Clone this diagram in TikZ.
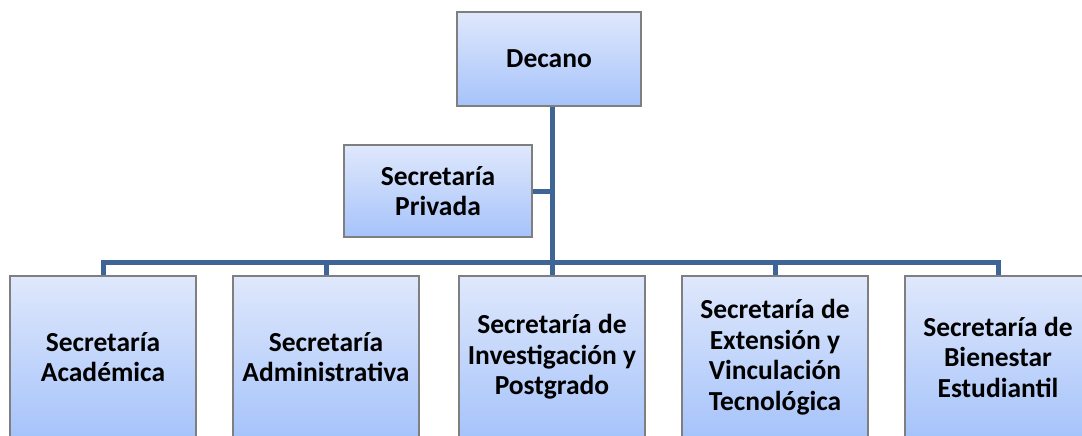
\documentclass[tikz,border=0pt]{standalone}
\usepackage{fontspec}
\setmainfont{Carlito}
\definecolor{linec}{HTML}{3F6596}
\definecolor{boxtop}{HTML}{DFE8FC}
\definecolor{boxbot}{HTML}{A6C3FA}
\definecolor{boxedge}{HTML}{7F7F7F}
\begin{document}
\begin{tikzpicture}[x=1pt,y=-1pt,
  box/.style={draw=boxedge, line width=1.6pt, top color=boxtop, bottom color=boxbot,
    minimum width=186pt, align=center, font=\fontsize{27.5}{30.5}\selectfont\bfseries, inner sep=0pt},
  conn/.style={draw=linec, line width=5pt, line join=miter}]
\useasboundingbox (0,0) rectangle (1082,436);
\begin{scope}
\clip (0,0) rectangle (1082,436);
\node[box, minimum width=184pt, minimum height=94pt] (dec) at (549,59) {Decano};
\node[box, minimum width=188pt, minimum height=92pt] (priv) at (438,191) {Secretaría\\Privada};
\node[box, minimum height=162pt] (b1) at (103,357) {Secretaría\\Académica};
\node[box, minimum height=162pt] (b2) at (326,357) {Secretaría\\Administrativa};
\node[box, minimum height=162pt] (b3) at (552,357) {Secretaría de\\Investigación y\\Postgrado};
\node[box, minimum height=162pt] (b4) at (775,357) {Secretaría de\\Extensión y\\Vinculación\\Tecnológica};
\node[box, minimum height=162pt] (b5) at (998,357) {Secretaría de\\Bienestar\\Estudiantil};
\coordinate (bus) at (552,262);
\path[conn] (dec.south -| bus) -- (b3.north);
\path[conn] (priv.east) -- (priv.east -| bus);
\path[conn] (b1.north) |- (bus) -| (b5.north);
\path[conn] (b2.north) -- (b2.north |- bus);
\path[conn] (b4.north) -- (b4.north |- bus);
\end{scope}
\end{tikzpicture}
\end{document}
